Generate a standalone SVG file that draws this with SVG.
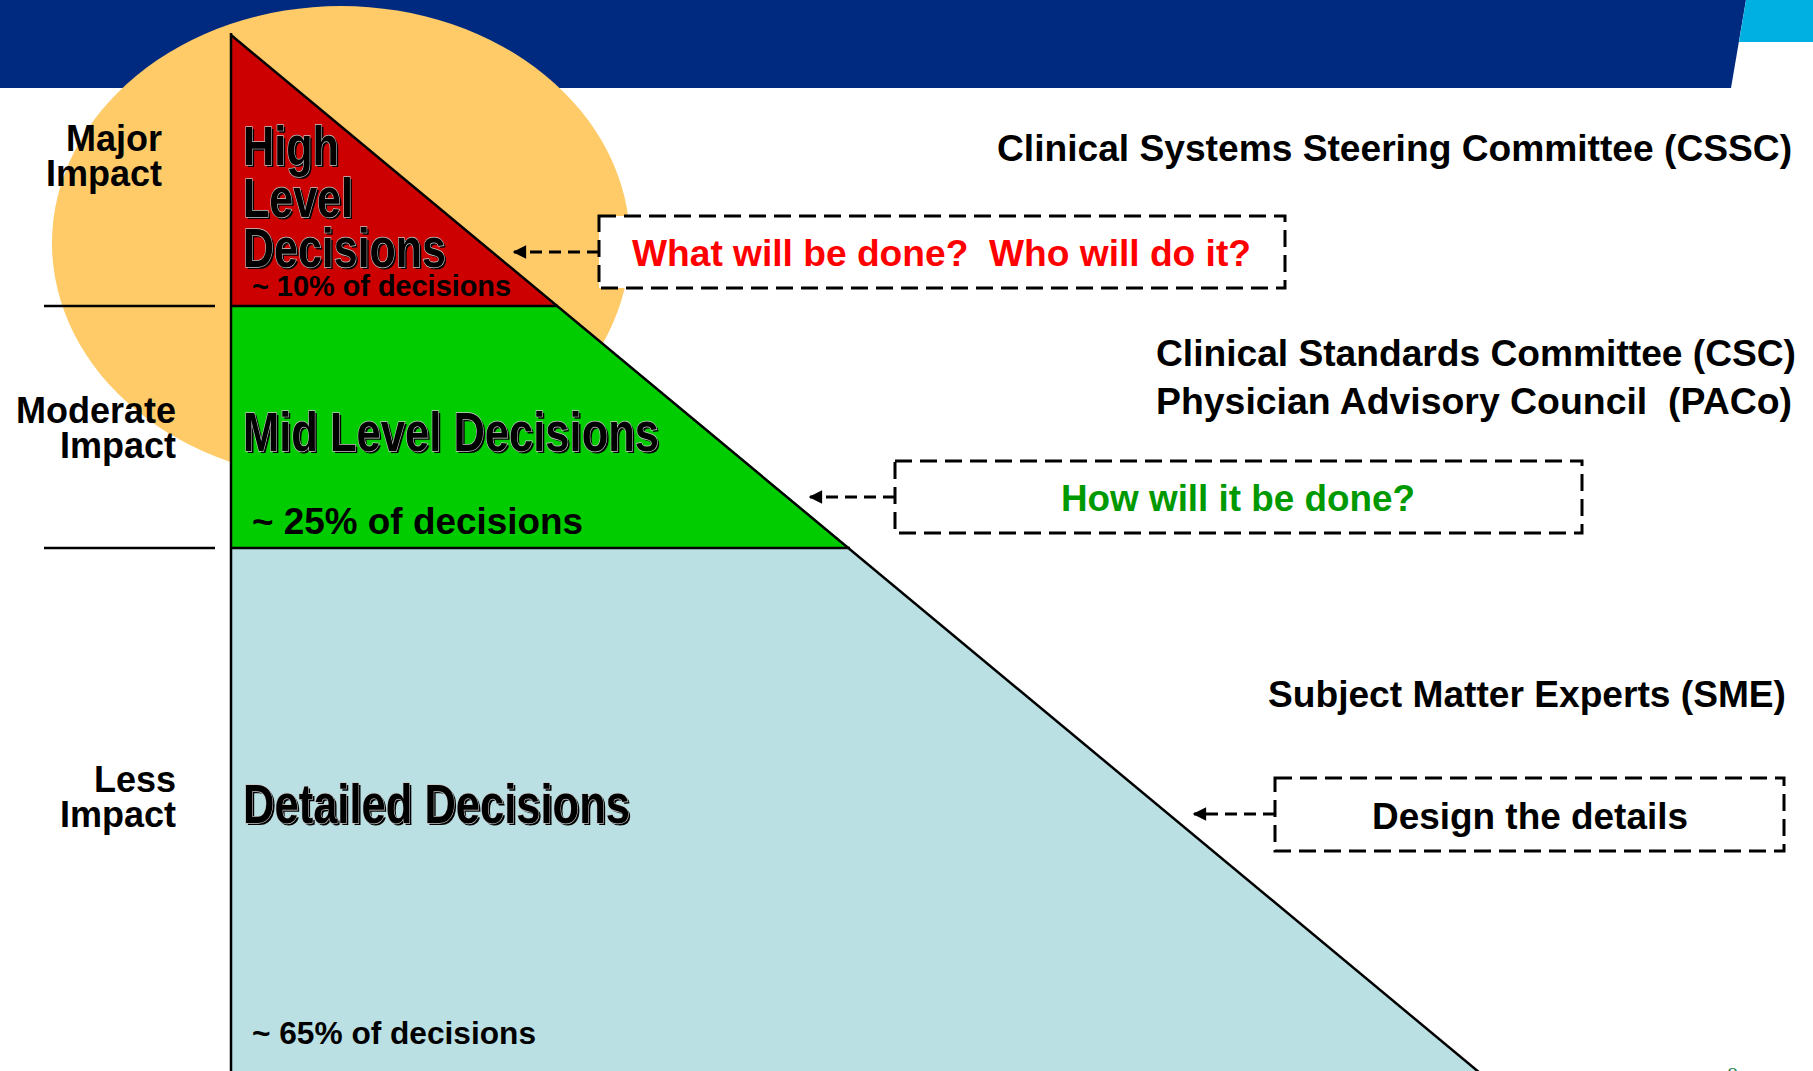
<svg xmlns="http://www.w3.org/2000/svg" width="1813" height="1071" viewBox="0 0 1813 1071">
<style>
.lbl{font-family:"Liberation Sans",Arial,sans-serif;font-weight:bold;font-size:36px;fill:#000;white-space:pre}
.big{font-family:"Liberation Sans",Arial,sans-serif;font-weight:bold;font-size:56px}
.bigs{fill:#000}
.bigm{fill:#000;stroke:#c8c8c8;stroke-width:1.4;paint-order:stroke}
.pct{font-family:"Liberation Sans",Arial,sans-serif;font-weight:bold;fill:#000}
.box{fill:#fff;stroke:#000;stroke-width:3;stroke-dasharray:17 8}
.conn{fill:none;stroke:#000;stroke-width:3;stroke-dasharray:12 7}
.edge{stroke:#000;stroke-width:2.5}
</style>
<defs>
<marker id="ah" viewBox="0 0 10 10" refX="9" refY="5" markerWidth="5" markerHeight="4.5" orient="auto" markerUnits="strokeWidth">
<path d="M10,5 L0,0 L0,10 Z" fill="#000"/>
</marker>
</defs>
<rect width="1813" height="1071" fill="#fff"/>
<g id="banner">
<polygon points="0,0 1746,0 1731,88 0,88" fill="#002A80"/>
<polygon points="1746,0 1813,0 1813,42 1739,42" fill="#00B0E3"/>
</g>
<ellipse id="highlight" cx="341" cy="243" rx="289" ry="237" fill="#FFCB69"/>
<g id="pyramid">
<polygon id="tier-high" points="231,35 558,306 231,306" fill="#CC0000"/>
<polygon id="tier-mid" points="231,306 558,306 850,548 231,548" fill="#00CC00"/>
<polygon id="tier-detail" points="231,548 850,548 1478,1071 231,1071" fill="#BAE0E3"/>
<line class="edge" x1="231" y1="35" x2="1480" y2="1073"/>
<line class="edge" x1="231" y1="33" x2="231" y2="1071"/>
<line class="edge" x1="231" y1="306" x2="558" y2="306"/>
<line class="edge" x1="231" y1="548" x2="850" y2="548"/>
</g>
<g id="impact-scale">
<line class="edge" x1="44" y1="306" x2="215" y2="306"/>
<line class="edge" x1="44" y1="548" x2="215" y2="548"/>
<text class="lbl" text-anchor="end" x="162" y="151">Major</text>
<text class="lbl" text-anchor="end" x="162" y="186">Impact</text>
<text class="lbl" text-anchor="end" x="176" y="423">Moderate</text>
<text class="lbl" text-anchor="end" x="176" y="458">Impact</text>
<text class="lbl" text-anchor="end" x="176" y="792">Less</text>
<text class="lbl" text-anchor="end" x="176" y="827">Impact</text>
</g>
<g id="node-high">
<text class="big bigs" x="245" y="167" textLength="96" lengthAdjust="spacingAndGlyphs">High</text>
<text class="big bigm" x="243" y="165" textLength="96" lengthAdjust="spacingAndGlyphs">High</text>
<text class="big bigs" x="245" y="219" textLength="110" lengthAdjust="spacingAndGlyphs">Level</text>
<text class="big bigm" x="243" y="217" textLength="110" lengthAdjust="spacingAndGlyphs">Level</text>
<text class="big bigs" x="245" y="269" textLength="203" lengthAdjust="spacingAndGlyphs">Decisions</text>
<text class="big bigm" x="243" y="267" textLength="203" lengthAdjust="spacingAndGlyphs">Decisions</text>
<text class="pct" x="252" y="296" font-size="29" textLength="259" lengthAdjust="spacingAndGlyphs">~ 10% of decisions</text>
</g>
<g id="node-mid">
<text class="big bigs" x="245" y="453" textLength="416" lengthAdjust="spacingAndGlyphs">Mid Level Decisions</text>
<text class="big bigm" x="243" y="451" textLength="416" lengthAdjust="spacingAndGlyphs">Mid Level Decisions</text>
<text class="pct" x="252" y="534" font-size="36" textLength="331" lengthAdjust="spacingAndGlyphs">~ 25% of decisions</text>
</g>
<g id="node-detail">
<text class="big bigs" x="245" y="825" textLength="387" lengthAdjust="spacingAndGlyphs">Detailed Decisions</text>
<text class="big bigm" x="243" y="823" textLength="387" lengthAdjust="spacingAndGlyphs">Detailed Decisions</text>
<text class="pct" x="252" y="1044" font-size="32" textLength="284" lengthAdjust="spacingAndGlyphs">~ 65% of decisions</text>
</g>
<g id="group-cssc">
<text class="lbl" x="997" y="161" textLength="795" lengthAdjust="spacingAndGlyphs">Clinical Systems Steering Committee (CSSC)</text>
</g>
<g id="group-csc">
<text class="lbl" x="1156" y="366" textLength="640" lengthAdjust="spacingAndGlyphs">Clinical Standards Committee (CSC)</text>
<text class="lbl" x="1156" y="414" textLength="636" lengthAdjust="spacingAndGlyphs">Physician Advisory Council  (PACo)</text>
</g>
<g id="group-sme">
<text class="lbl" x="1268" y="707" textLength="518" lengthAdjust="spacingAndGlyphs">Subject Matter Experts (SME)</text>
</g>
<g id="box-what">
<rect class="box" x="599" y="216" width="686" height="72"/>
<text class="lbl" x="632" y="266" style="fill:#FF0000" textLength="619" lengthAdjust="spacingAndGlyphs">What will be done?  Who will do it?</text>
</g>
<g id="box-how">
<rect class="box" x="895" y="461" width="687" height="72"/>
<text class="lbl" x="1061" y="511" style="fill:#009900" textLength="354" lengthAdjust="spacingAndGlyphs">How will it be done?</text>
</g>
<g id="box-design">
<rect class="box" x="1275" y="778" width="509" height="73"/>
<text class="lbl" x="1372" y="829" textLength="316" lengthAdjust="spacingAndGlyphs">Design the details</text>
</g>
<g id="connectors">
<line class="conn" x1="599" y1="252" x2="514" y2="252" marker-end="url(#ah)"/>
<line class="conn" x1="895" y1="497" x2="810" y2="497" marker-end="url(#ah)"/>
<line class="conn" x1="1275" y1="814" x2="1194" y2="814" marker-end="url(#ah)"/>
</g>
<text id="page-number" x="1727" y="1082" font-family="'Liberation Serif',serif" font-size="22" fill="#2E8B57">8</text>
</svg>
